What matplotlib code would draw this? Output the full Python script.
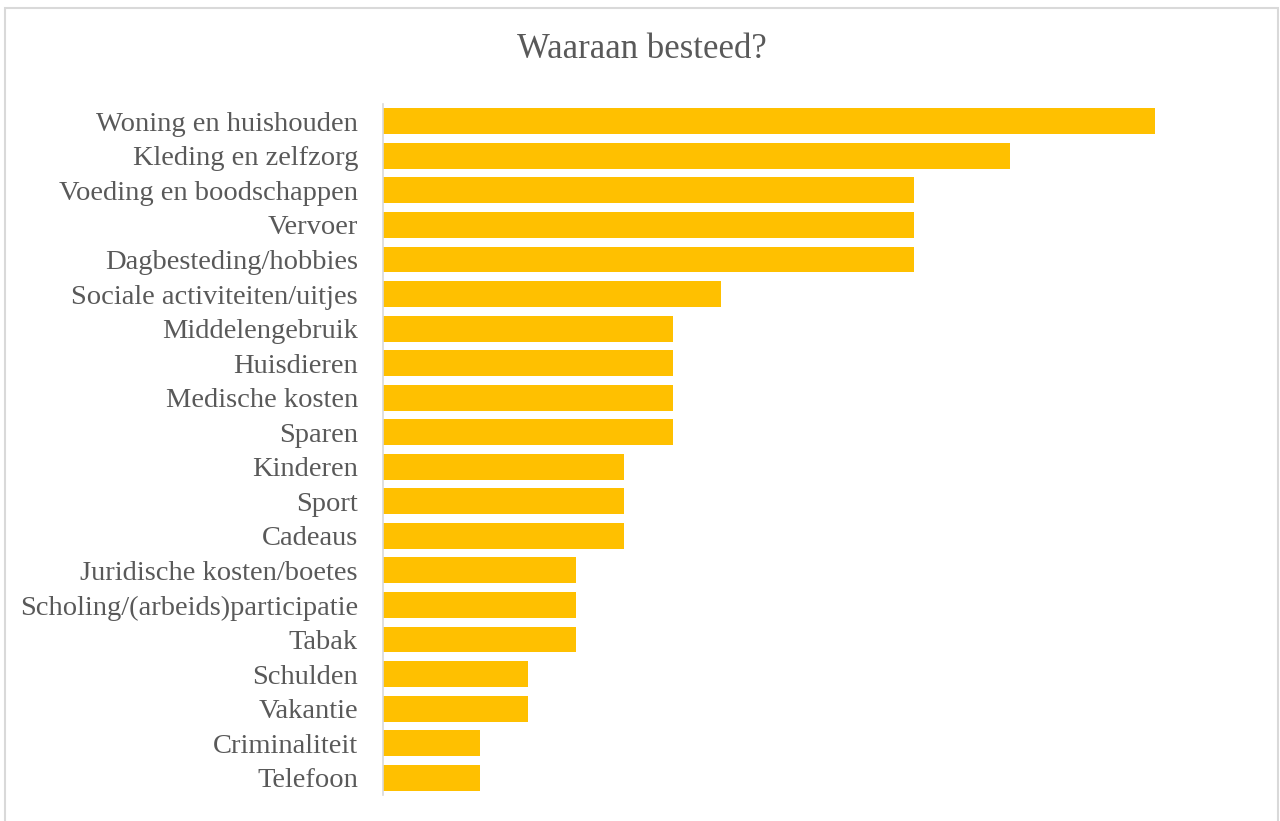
import matplotlib.pyplot as plt
from matplotlib.patches import Rectangle

plt.rcParams['font.family'] = ['Liberation Serif', 'DejaVu Serif']

categories = ['Woning en huishouden', 'Kleding en zelfzorg', 'Voeding en boodschappen',
              'Vervoer', 'Dagbesteding/hobbies', 'Sociale activiteiten/uitjes',
              'Middelengebruik', 'Huisdieren', 'Medische kosten', 'Sparen',
              'Kinderen', 'Sport', 'Cadeaus', 'Juridische kosten/boetes',
              'Scholing/(arbeids)participatie', 'Tabak', 'Schulden', 'Vakantie',
              'Criminaliteit', 'Telefoon']
values = [16, 13, 11, 11, 11, 7, 6, 6, 6, 6, 5, 5, 5, 4, 4, 4, 3, 3, 2, 2]

fig = plt.figure(figsize=(12.8, 8.21), dpi=100)
# chart frame (bottom edge runs off the picture)
fig.patches.append(Rectangle((5 / 1280, -0.01), 1273 / 1280, 813 / 821 + 0.01,
                             transform=fig.transFigure,
                             fill=False, edgecolor='#D9D9D9', linewidth=1.5))

ax = fig.add_axes([383 / 1280, 26 / 821, 868.5 / 1280, 691 / 821])
ypos = list(range(len(categories)))
ax.barh(ypos, values, height=0.75, color='#FFC000')
ax.set_yticks(ypos)
ax.set_yticklabels(categories, fontsize=20.5, color='#595959')
ax.set_ylim(len(categories) - 0.5, -0.5)
ax.set_xlim(0, 18)
ax.set_xticks([])
ax.tick_params(axis='y', length=0, pad=18)
for s in ['top', 'right', 'bottom']:
    ax.spines[s].set_visible(False)
ax.spines['left'].set_color('#D9D9D9')
ax.spines['left'].set_linewidth(1.2)

fig.text(642 / 1280, 1 - 49 / 821, 'Waaraan besteed?', ha='center', va='center',
         fontsize=25, color='#595959')

fig.savefig('out.png', dpi=100)
